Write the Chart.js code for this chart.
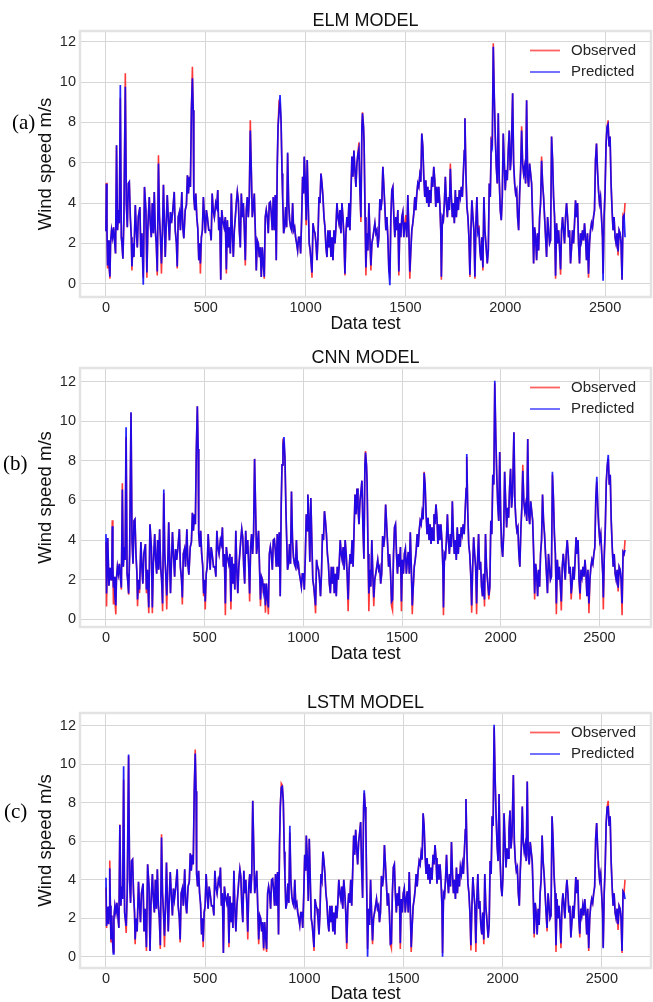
<!DOCTYPE html>
<html>
<head>
<meta charset="utf-8">
<script src="https://cdn.jsdelivr.net/npm/chart.js@4.4.0/dist/chart.umd.min.js"></script>
<style>
html,body{margin:0;padding:0;background:#fff;}
body{width:653px;height:1002px;position:relative;overflow:hidden;}
canvas{position:absolute;left:0;}
.pl{position:absolute;font-family:"Liberation Serif","Times New Roman",serif;font-size:21px;line-height:21px;color:#000;}
</style>
</head>
<body>
<canvas id="c1" width="653" height="335" style="top:0px"></canvas>
<canvas id="c2" width="653" height="331" style="top:335px"></canvas>
<canvas id="c3" width="653" height="336" style="top:666px"></canvas>
<div class="pl" style="left:12px;top:112px">(a)</div>
<div class="pl" style="left:3px;top:453px">(b)</div>
<div class="pl" style="left:4px;top:801px">(c)</div>
<script>
// ---------- DATA ----------
const xTickValues = [0, 500, 1000, 1500, 2000, 2500];
const yTickValues = [0, 2, 4, 6, 8, 10, 12];
const seriesNames = ['Observed', 'Predicted'];
const panelTitles = ['ELM MODEL', 'CNN MODEL', 'LSTM MODEL'];

// shared time index of the test set (ELM numbering)
const timeIndex = [
0,2,5,8,12,15,20,23,28,33, 38,43,48,53,58,63,67,72,77,80, 85,90,97,102,107,112,117,122,127,130,
135,140,147,152,157,162,170,175,180,187, 193,200,205,210,217,222,227,232,237,242, 247,252,257,263,268,273,278,283,288,293,
297,302,307,312,318,323,328,335,342,347, 353,357,362,368,373,380,385,390,397,403, 408,413,418,423,428,433,437,440,445,450,
455,460,465,470,473,478,483,488,493,498, 503,508,515,522,527,532,537,543,550,555, 560,565,570,575,580,585,592,598,603,608,
613,618,623,628,633,638,643,648,653,658, 663,668,673,678,683,688,693,698,703,708, 713,718,723,728,733,738,743,748,753,758,
763,768,773,778,783,788,793,798,803,808, 813,818,823,828,833,838,843,848,853,858, 862,867,872,877,882,885,890,895,900,905,
910,915,920,925,930,935,940,945,950,955, 960,965,970,975,980,985,990,993,998,1003, 1008,1013,1018,1023,1028,1032,1037,1042,1047,1052,
1057,1062,1067,1072,1077,1082,1087,1092,1097,1102, 1107,1112,1117,1122,1127,1132,1137,1142,1147,1152, 1157,1162,1167,1172,1177,1182,1187,1192,1197,1202,
1207,1212,1217,1222,1227,1232,1237,1242,1247,1252,
1257,1262,1267,1272,1277,1282,1285,1290,1293,1298, 1302,1307,1312,1317,1322,1327,1332,1337,1342,1347, 1352,1357,1362,1367,1372,1377,1382,1387,1392,1397,
1402,1407,1412,1417,1422,1427,1432,1437,1442,1447, 1452,1457,1462,1467,1472,1477,1482,1487,1492,1497, 1502,1507,1512,1517,1522,1527,1532,1537,1542,1547,
1552,1557,1562,1567,1572,1577,1582,1587,1592,1597, 1602,1607,1612,1617,1622,1627,1632,1637,1642,1647, 1652,1657,1662,1667,1672,1677,1680,1685,1690,1695,
1700,1705,1710,1715,1720,1725,1730,1735,1740,1745, 1750,1755,1760,1765,1770,1775,1780,1785,1790,1795, 1798,1803,1808,1813,1818,1823,1828,1833,1838,1843,
1848,1853,1858,1863,1868,1873,1878,1883,1888,1893, 1898,1903,1910,1915,1920,1925,1930,1935,1940,1945,
1950,1955,1960,1965,1970,1975,1980,1985,1990,1995, 2000,2005,2010,2015,2020,2025,2030,2037,2042,2047, 2052,2057,2062,2067,2072,2077,2082,2087,2092,2097,
2102,2107,2112,2117,2122,2127,2132,2137,2142,2147, 2152,2157,2162,2167,2172,2177,2182,2187,2192,2197, 2202,2207,2212,2217,2222,2227,2232,2237,2242,2247,
2252,2257,2262,2267,2272,2277,2282,2287,2292,2297, 2302,2307,2312,2317,2322,2327,2332,2337,2342,2347, 2352,2357,2362,2367,2372,2377,2382,2387,2392,2397,
2402,2407,2412,2417,2422,2427,2432,2437,2442,2447, 2452,2457,2462,2467,2472,2477,2482,2487,2490,2495, 2500,2505,2510,2515,2520,2525,2530,2535,2540,2545,
2550,2555,2560,2565,2570,2575,2580,2585,2590,2595, 2600
];

const observed = [
2.6,5.0,2.65,0.75,2.15,1.0,0.25,2.0,2.65,2.3, 2.8,2.15,1.5,6.87,2.65,3.65,3.0,9.2,2.3,2.0, 1.24,3.3,10.43,4.0,2.8,4.97,5.05,3.3,2.3,0.66,
2.0,1.32,3.9,2.65,1.8,3.3,3.8,1.32,2.5,0.3, 4.8,3.65,0.3,2.8,4.3,3.0,2.3,4.0,2.5,4.55, 2.65,2.0,0.41,6.37,3.3,2.3,0.5,2.65,4.9,2.8,
1.32,3.0,4.4,3.3,2.15,3.55,3.0,3.65,4.55,2.65, 2.0,0.75,3.3,3.55,2.65,4.55,2.8,2.25,3.65,3.9, 5.38,4.47,5.3,4.8,8.6,10.76,8.6,4.3,3.65,4.47,
3.3,2.73,1.16,2.0,0.5,2.3,2.65,4.3,3.3,2.5, 3.65,3.3,2.65,2.65,2.15,4.47,3.65,3.3,4.0,3.8, 4.64,2.65,3.3,0.2,3.65,3.15,2.8,3.3,0.5,3.15,
1.8,2.8,1.5,4.47,2.5,1.32,2.65,3.3,4.0,4.55, 4.14,2.65,1.8,4.47,3.3,4.0,2.8,0.9,3.65,4.3, 3.3,4.3,8.1,5.63,3.3,3.8,4.47,2.65,0.66,2.15,
2.0,1.32,1.8,0.33,1.8,1.0,0.25,3.3,3.65,3.3, 2.5,4.0,4.05,3.5,2.65,4.3,2.65,4.4,1.16,5.8, 7.8,9.0,8.9,8.1,5.46,4.3,2.5,2.8,3.8,2.8,
6.45,4.0,3.15,2.8,2.65,4.0,2.65,2.8,2.3,2.0, 1.65,2.3,2.3,1.5,3.15,5.3,4.47,6.3,5.13,2.9, 6.13,4.0,2.0,1.65,1.0,0.3,3.0,2.65,2.5,2.0,
1.16,2.3,4.3,4.0,5.46,4.97,4.3,3.3,2.8,1.8, 1.32,2.65,1.8,2.65,1.32,2.3,1.16,2.65,2.0,2.8, 4.0,3.3,3.0,3.65,2.5,4.0,3.3,2.3,0.41,2.5,
3.3,2.8,4.0,2.65,4.47,6.3,5.3,6.6,5.63,4.8,
5.96,6.45,7.0,4.64,3.06,7.78,8.5,7.78,6.95,3.3, 0.41,2.5,1.65,4.0,2.3,0.66,2.0,2.3,2.65,3.0, 2.5,2.65,1.8,2.3,4.2,3.65,4.14,5.8,4.8,3.8,
2.65,3.3,2.3,0.66,0.45,3.3,4.64,4.8,3.3,2.3, 3.3,2.65,3.65,0.41,3.0,2.3,3.3,3.55,2.3,3.0, 3.4,2.3,4.4,2.65,0.25,1.65,2.65,3.0,3.5,4.3,
3.65,4.47,4.97,4.8,5.38,5.05,7.45,6.8,5.3,4.3, 5.13,4.0,4.8,3.8,4.64,4.0,5.3,4.8,5.8,5.13, 3.8,4.8,4.0,4.8,4.0,2.65,0.2,3.3,3.15,4.0,
5.3,4.0,3.3,4.3,3.65,5.96,4.3,3.3,4.0,3.0, 4.64,3.3,4.3,3.65,4.64,4.3,4.8,4.3,5.46,6.6, 8.2,5.46,3.8,3.3,2.3,0.33,2.65,4.14,3.3,2.65,
0.25,3.0,4.3,2.5,2.9,1.65,1.16,2.3,0.65,4.3, 2.65,2.0,1.0,1.65,4.97,4.3,7.3,6.8,11.92,9.27,
7.3,5.8,4.97,8.45,5.13,3.65,3.15,4.3,7.45,5.96, 4.64,5.63,5.13,6.6,7.6,5.63,6.3,9.44,5.96,4.97, 4.47,4.64,3.3,2.65,4.47,5.63,7.8,5.96,5.46,5.8,
4.97,9.1,5.3,4.8,5.96,5.46,4.97,3.3,1.0,2.8, 2.3,1.16,2.5,1.65,3.3,4.0,6.3,4.97,4.3,3.3, 2.3,1.32,3.3,2.65,2.0,2.15,7.3,6.13,4.3,3.3,
0.25,3.0,2.0,2.65,1.8,0.45,2.65,3.3,2.65,2.0, 3.3,4.0,3.3,2.3,2.65,1.0,1.8,2.65,2.0,3.0, 4.14,3.3,4.0,2.0,1.0,2.5,2.15,2.65,2.15,3.0,
2.3,1.16,2.5,0.3,2.0,2.65,3.0,2.8,3.3,3.65, 6.13,6.95,5.63,4.64,4.0,4.3,3.3,2.3,0.5,3.3, 4.64,6.95,7.78,8.1,6.8,7.3,4.97,3.65,2.65,3.3,
2.3,2.0,2.5,1.4,2.65,2.5,2.0,0.2,3.4,3.3, 4.0
];

const elmPredicted = [
2.6,4.95,2.65,0.9,2.15,1.0,0.35,2.0,2.65,2.3, 2.8,2.15,1.5,6.87,2.65,3.65,3.0,9.85,2.3,2.0, 1.24,3.3,9.77,4.0,2.8,4.97,5.05,3.3,2.3,0.85,
2.0,1.32,3.9,2.65,1.8,3.3,3.8,1.32,2.5,-0.05, 4.8,3.65,0.55,2.8,4.3,3.0,2.3,4.0,2.5,4.55, 2.65,2.0,0.6,5.96,3.3,2.3,1.0,2.65,4.9,2.8,
1.32,3.0,4.4,3.3,2.15,3.55,3.0,3.65,4.55,2.65, 2.0,0.85,3.3,3.55,2.65,4.55,2.8,2.25,3.65,3.9, 5.38,4.47,5.3,4.8,8.6,10.18,8.6,4.3,3.65,4.47,
3.3,2.73,1.16,2.0,1.0,2.3,2.65,4.3,3.3,2.5, 3.65,3.3,2.65,2.65,2.15,4.47,3.65,3.3,4.0,3.8, 4.64,2.65,3.3,0.2,3.65,3.15,2.8,3.3,0.7,3.15,
1.8,2.8,1.5,4.47,2.5,1.32,2.65,3.3,4.0,4.55, 4.14,2.65,1.8,4.47,3.3,4.0,2.8,1.16,3.65,4.3, 3.3,4.3,7.6,5.63,3.3,3.8,4.47,2.65,0.66,2.15,
2.0,1.32,1.8,0.33,1.8,1.0,0.35,3.3,3.65,3.3, 2.5,4.0,4.05,3.5,2.65,4.3,2.65,4.4,1.16,5.8, 7.8,8.5,9.35,8.1,5.46,4.3,2.5,2.8,3.8,2.8,
6.5,4.0,3.15,2.8,2.65,4.0,2.65,2.8,2.3,2.0, 1.65,2.3,2.3,1.5,3.15,5.3,4.47,6.3,5.13,3.15, 6.13,4.0,2.0,1.65,1.0,0.55,3.0,2.65,2.5,2.0,
1.16,2.3,4.3,4.0,5.46,4.97,4.3,3.3,2.8,1.8, 1.32,2.65,1.8,2.65,1.32,2.3,1.16,2.65,2.0,2.8, 4.0,3.3,3.0,3.65,2.5,4.0,3.3,2.3,0.5,2.5,
3.3,2.8,4.0,2.65,4.47,6.3,5.3,6.6,5.63,4.8,
5.96,6.45,6.7,4.64,3.3,7.78,8.45,7.78,6.95,3.3, 0.8,2.5,1.65,4.0,2.3,0.9,2.0,2.3,2.65,3.0, 2.5,2.65,1.8,2.3,4.2,3.65,4.14,5.8,4.8,3.8,
2.65,3.3,2.3,0.66,-0.08,3.3,4.64,4.8,3.3,2.3, 3.3,2.65,3.65,0.6,3.0,2.3,3.3,3.55,2.3,3.0, 3.0,2.3,4.4,2.65,0.6,1.65,2.65,3.0,3.5,4.3,
3.65,4.47,4.97,4.8,5.38,5.05,7.45,6.8,5.3,4.3, 5.13,4.0,4.8,3.8,4.64,4.0,5.3,4.8,5.8,5.13, 3.8,4.8,4.0,4.8,4.0,2.65,0.35,3.3,3.15,4.0,
5.3,4.0,3.3,4.3,3.65,5.7,4.3,3.3,4.0,3.0, 4.64,3.3,4.3,3.65,4.64,4.3,4.8,4.3,5.46,6.6, 8.2,5.46,3.8,3.3,2.3,0.45,2.65,4.14,3.3,2.65,
0.35,3.0,4.3,2.5,2.65,1.65,1.16,2.3,0.8,4.3, 2.65,2.0,1.0,1.65,4.97,4.3,7.0,6.8,11.75,9.27,
7.3,5.8,4.97,8.45,5.13,3.65,3.15,4.3,7.45,5.96, 4.64,5.63,5.13,6.6,7.6,5.63,6.3,9.44,5.96,4.97, 4.47,4.64,3.3,2.65,4.47,5.63,7.6,5.96,5.46,5.8,
4.97,9.1,5.3,4.8,5.96,5.46,4.97,3.3,1.0,2.8, 2.3,1.16,2.5,1.65,3.3,4.0,6.1,4.97,4.3,3.3, 2.3,1.32,3.3,2.65,2.0,2.15,7.3,6.13,4.3,3.3,
0.4,3.0,2.0,2.65,1.8,0.7,2.65,3.3,2.65,2.0, 3.3,4.0,3.3,2.3,2.65,1.0,1.8,2.65,2.0,3.0, 4.14,3.3,4.0,2.0,1.0,2.5,2.15,2.65,2.15,3.0,
2.3,1.16,2.5,0.5,2.0,2.65,3.0,2.8,3.3,3.65, 6.13,6.95,5.63,4.64,4.0,4.3,3.3,2.3,0.15,3.3, 4.64,6.95,7.78,7.9,6.8,7.3,4.97,3.65,2.65,3.3,
2.3,2.0,2.5,1.6,2.65,2.5,2.0,0.2,3.3,3.4, 2.3
];

const cnnPredicted = [
2.6,4.7,2.65,1.6,2.15,1.2,0.7,2.0,2.65,2.3, 2.8,2.15,1.6,6.55,2.65,3.65,3.0,9.7,2.3,2.0, 1.3,3.3,10.45,4.0,2.8,4.97,5.05,3.3,2.3,1.0,
2.0,1.5,3.9,2.65,1.8,3.3,3.8,1.5,2.5,0.6, 4.8,3.65,0.6,2.8,4.3,3.0,2.3,4.0,2.5,4.55, 2.65,2.0,0.8,6.55,3.3,2.3,1.2,2.65,4.9,2.8,
1.32,3.0,4.4,3.3,2.15,3.55,3.0,3.65,4.55,2.65, 2.0,1.1,3.3,3.55,2.65,4.55,2.8,2.25,3.65,3.9, 5.38,4.47,5.3,4.8,8.6,10.76,8.6,4.3,3.65,4.47,
3.3,2.73,1.3,2.0,0.9,2.3,2.65,4.3,3.3,2.5, 3.65,3.3,2.65,2.65,2.15,4.47,3.65,3.3,4.0,3.8, 4.64,2.65,3.3,0.8,3.65,3.15,2.8,3.3,0.9,3.15,
1.8,2.8,1.5,4.47,2.5,1.32,2.65,3.3,4.0,4.55, 4.14,2.65,1.8,4.47,3.3,4.0,2.8,1.3,3.65,4.3, 3.3,4.3,8.1,5.63,3.3,3.8,4.47,2.65,1.0,2.15,
2.0,1.4,1.8,0.7,1.8,1.1,0.6,3.3,3.65,3.3, 2.5,4.0,4.05,3.5,2.65,4.3,2.65,4.4,1.16,5.8, 7.8,8.8,9.2,8.1,5.46,4.3,2.5,2.8,3.8,2.8,
6.45,4.0,3.15,2.8,2.65,4.0,2.65,2.8,2.3,2.0, 1.65,2.3,2.3,1.5,3.15,5.3,4.47,6.3,5.13,2.9, 6.13,4.0,2.0,1.65,1.1,0.7,3.0,2.65,2.5,2.0,
1.16,2.3,4.3,4.0,5.46,4.97,4.3,3.3,2.8,1.8, 1.32,2.65,1.8,2.65,1.32,2.3,1.16,2.65,2.0,2.8, 4.0,3.3,3.0,3.65,2.5,4.0,3.3,2.3,1.0,2.5,
3.3,2.8,4.0,2.65,4.47,6.3,5.3,6.6,5.63,4.8,
5.96,6.45,7.0,4.64,3.06,7.78,8.42,7.78,6.95,3.3, 1.3,2.5,1.65,4.0,2.3,1.1,2.0,2.3,2.65,3.0, 2.5,2.65,1.8,2.3,4.2,3.65,4.14,5.8,4.8,3.8,
2.65,3.3,2.3,0.9,1.0,3.3,4.64,4.8,3.3,2.3, 3.3,2.65,3.65,0.9,3.0,2.3,3.3,3.55,2.3,3.0, 3.4,2.3,4.4,2.65,0.7,1.65,2.65,3.0,3.5,4.3,
3.65,4.47,4.97,4.8,5.38,5.05,7.4,6.8,5.3,4.3, 5.13,4.0,4.8,3.8,4.64,4.0,5.3,4.8,5.8,5.13, 3.8,4.8,4.0,4.8,4.0,2.65,0.6,3.3,3.15,4.0,
5.3,4.0,3.3,4.3,3.65,5.96,4.3,3.3,4.0,3.0, 4.64,3.3,4.3,3.65,4.64,4.3,4.8,4.3,5.46,6.6, 8.35,5.46,3.8,3.3,2.3,0.7,2.65,4.14,3.3,2.65,
0.8,3.0,4.3,2.5,2.9,1.65,1.16,2.3,1.0,4.3, 2.65,2.0,1.2,1.65,4.97,4.3,7.3,6.8,12.05,9.27,
7.3,5.8,4.97,8.45,5.13,3.65,3.15,4.3,7.45,5.96, 4.64,5.63,5.13,6.6,7.6,5.63,6.3,9.44,5.96,4.97, 4.47,4.64,3.3,2.65,4.47,5.63,7.5,5.96,5.46,5.8,
4.97,9.1,5.3,4.8,5.96,5.46,4.97,3.3,1.3,2.8, 2.3,1.16,2.5,1.65,3.3,4.0,6.3,4.97,4.3,3.3, 2.3,1.32,3.3,2.65,2.0,2.15,7.45,6.13,4.3,3.3,
0.8,3.0,2.0,2.65,1.8,0.9,2.65,3.3,2.65,2.0, 3.3,4.0,3.3,2.3,2.65,1.3,1.8,2.65,2.0,3.0, 4.14,3.3,4.0,2.0,1.3,2.5,2.15,2.65,2.15,3.0,
2.3,1.16,2.5,0.8,2.0,2.65,3.0,2.8,3.3,3.65, 6.13,7.2,5.63,4.64,4.0,4.3,3.3,2.3,1.1,3.3, 4.64,6.95,7.78,8.3,6.8,7.3,4.97,3.65,2.65,3.3,
2.3,2.0,2.5,1.6,2.65,2.5,2.0,0.8,3.4,3.3, 3.5
];

const lstmPredicted = [
2.6,4.6,2.65,0.9,2.15,1.0,0.15,2.0,2.65,2.3, 2.8,2.15,1.5,6.85,2.65,3.65,3.0,9.9,2.3,2.0, 1.6,3.3,10.5,4.0,2.8,4.97,5.05,3.3,2.3,0.9,
2.0,1.32,3.9,2.65,1.8,3.3,3.8,1.32,2.5,0.5, 4.8,3.65,0.3,2.8,4.3,3.0,2.3,4.0,2.5,4.55, 2.65,2.0,0.6,6.2,3.3,2.3,1.1,2.65,4.9,2.8,
1.32,3.0,4.4,3.3,2.15,3.55,3.0,3.65,4.55,2.65, 2.0,0.9,3.3,3.55,2.65,4.55,2.8,2.25,3.65,3.9, 5.38,4.47,5.3,4.8,8.6,10.55,8.6,4.3,3.65,4.47,
3.3,2.73,1.16,2.0,0.8,2.3,2.65,4.3,3.3,2.5, 3.65,3.3,2.65,2.65,2.15,4.47,3.65,3.3,4.0,3.8, 4.64,2.65,3.3,0.2,3.65,3.15,2.8,3.3,0.7,3.15,
1.8,2.8,1.5,4.47,2.5,1.32,2.65,3.3,4.0,4.55, 4.14,2.65,1.8,4.47,3.3,4.0,2.8,1.3,3.65,4.3, 3.3,4.3,8.1,5.63,3.3,3.8,4.47,2.65,0.9,2.15,
2.0,1.32,1.8,0.45,1.8,1.0,0.4,3.3,3.65,3.3, 2.5,4.0,4.05,3.5,2.65,4.3,2.65,4.4,1.16,5.8, 7.8,8.8,8.85,8.1,5.46,4.3,2.5,2.8,3.8,2.8,
6.8,4.0,3.15,2.8,2.65,4.0,2.65,2.8,2.3,2.0, 1.65,2.3,2.3,1.5,3.15,5.3,4.47,6.3,5.13,2.9, 6.13,4.0,2.0,1.65,1.0,0.5,3.0,2.65,2.5,2.0,
1.16,2.3,4.3,4.0,5.46,4.97,4.3,3.3,2.8,1.8, 1.32,2.65,1.8,2.65,1.32,2.3,1.16,2.65,2.0,2.8, 4.0,3.3,3.0,3.65,2.5,4.0,3.3,2.3,0.7,2.5,
3.3,2.8,4.0,2.65,4.47,6.3,5.3,6.6,5.63,4.8,
5.96,6.45,7.0,4.64,3.06,7.78,8.65,7.78,6.95,3.3, 0.0,2.5,1.65,4.0,2.3,0.85,2.0,2.3,2.65,3.0, 2.5,2.65,1.8,2.3,4.2,3.65,4.14,5.8,4.8,3.8,
2.65,3.3,2.3,0.66,0.7,3.3,4.64,4.8,3.3,2.3, 3.3,2.65,3.65,0.7,3.0,2.3,3.3,3.55,2.3,3.0, 3.4,2.3,4.4,2.65,0.5,1.65,2.65,3.0,3.5,4.3,
3.65,4.47,4.97,4.8,5.38,5.05,7.45,6.8,5.3,4.3, 5.13,4.0,4.8,3.8,4.64,4.0,5.3,4.8,5.8,5.13, 3.8,4.8,4.0,4.8,4.0,2.65,0.0,3.3,3.15,4.0,
5.3,4.0,3.3,4.3,3.65,5.96,4.3,3.3,4.0,3.0, 4.64,3.3,4.3,3.65,4.64,4.3,4.8,4.3,5.46,6.6, 8.2,5.46,3.8,3.3,2.3,0.6,2.65,4.14,3.3,2.65,
0.7,3.0,4.3,2.5,2.9,1.65,1.16,2.3,0.9,4.3, 2.65,2.0,1.0,1.65,4.97,4.3,7.3,6.8,12.05,9.27,
7.3,5.8,4.97,8.45,5.13,3.65,3.15,4.3,7.45,5.96, 4.64,5.63,5.13,6.6,7.6,5.63,6.3,9.44,5.96,4.97, 4.47,4.64,3.3,2.65,4.47,5.63,7.8,5.96,5.46,5.8,
4.97,9.1,5.3,4.8,5.96,5.46,4.97,3.3,1.2,2.8, 2.3,1.16,2.5,1.65,3.3,4.0,6.3,4.97,4.3,3.3, 2.3,1.5,3.3,2.65,2.0,2.15,7.3,6.13,4.3,3.3,
0.6,3.0,2.0,2.65,1.8,0.7,2.65,3.3,2.65,2.0, 3.3,4.0,3.3,2.3,2.65,1.0,1.8,2.65,2.0,3.0, 4.14,3.3,4.0,2.0,1.2,2.5,2.15,2.65,2.15,3.0,
2.3,1.16,2.5,0.45,2.0,2.65,3.0,2.8,3.3,3.65, 6.13,6.95,5.63,4.64,4.0,4.3,3.3,2.3,0.45,3.3, 4.64,6.95,7.78,7.8,6.8,7.3,4.97,3.65,2.65,3.3,
2.3,2.0,2.5,1.7,2.65,2.5,2.0,0.3,3.4,3.3, 3.0
];

// the CNN and LSTM test sets start a little earlier than the ELM one
const cnnIndexShift = 30;
const lstmIndexShift = 17;
const cnnLeadX = [0, 3, 9, 15, 21, 26];
const cnnLeadObserved = [3.9, 0.65, 4.1, 1.7, 2.6, 2.0];
const cnnLeadPredicted = [4.3, 1.3, 4.1, 1.7, 2.6, 2.0];
const lstmLeadX = [0, 3, 8, 13];
const lstmLeadObserved = [3.6, 1.5, 2.6, 1.7];
const lstmLeadPredicted = [4.1, 1.6, 2.6, 1.7];

// ---------- RENDERING ----------
const FONT = '"Liberation Sans", Arial, Helvetica, sans-serif';
const TXT = '#262626';
const RED = 'rgba(255,0,0,0.78)';
const BLUE = 'rgba(0,0,255,0.86)';
const LEGEND_COLORS = ['rgba(255,0,0,0.62)', 'rgba(0,0,255,0.62)'];

const framePlugin = {
  id: 'frame',
  afterDatasetsDraw(chart) {
    const {ctx, chartArea: a} = chart;
    ctx.save();
    ctx.strokeStyle = '#e3e3e3';
    ctx.lineWidth = 2.5;
    ctx.strokeRect(a.left, a.top, a.right - a.left, a.bottom - a.top);
    ctx.restore();
  }
};

const legendPlugin = {
  id: 'lineLegend',
  afterDraw(chart) {
    const {ctx, chartArea: a} = chart;
    const rows = [19.5, 41];
    ctx.save();
    ctx.font = '15px ' + FONT;
    ctx.textBaseline = 'middle';
    ctx.textAlign = 'left';
    chart.data.datasets.forEach((ds, i) => {
      const y = a.top + rows[i];
      ctx.strokeStyle = LEGEND_COLORS[i];
      ctx.lineWidth = 1.8;
      ctx.beginPath();
      ctx.moveTo(a.right - 121, y);
      ctx.lineTo(a.right - 91, y);
      ctx.stroke();
      ctx.fillStyle = TXT;
      ctx.fillText(ds.label, a.right - 80, y);
    });
    ctx.restore();
  }
};

function buildPoints(leadX, leadVals, shift, vals) {
  const pts = leadX.map((x, i) => ({x: x, y: leadVals[i]}));
  timeIndex.forEach((t, i) => pts.push({x: t + shift, y: vals[i]}));
  return pts;
}

function makePanel(id, p) {
  return new Chart(document.getElementById(id), {
    type: 'line',
    data: {
      datasets: [
        {label: seriesNames[0], data: buildPoints(p.leadX, p.leadObs, p.shift, observed),
         borderColor: RED, borderWidth: 1.6, pointRadius: 0, tension: 0, order: 2},
        {label: seriesNames[1], data: buildPoints(p.leadX, p.leadPred, p.shift, p.pred),
         borderColor: BLUE, borderWidth: 1.7, pointRadius: 0, tension: 0, order: 1}
      ]
    },
    options: {
      responsive: false,
      animation: false,
      devicePixelRatio: 1,
      layout: {padding: {left: 0, right: 2, top: 0, bottom: p.padBottom}},
      plugins: {
        legend: {display: false},
        tooltip: {enabled: false},
        title: {display: true, text: p.title, fullSize: false, color: '#111',
                font: {family: FONT, size: 18, weight: 'normal', lineHeight: 1},
                padding: {top: p.titleTop, bottom: 1}}
      },
      scales: {
        x: {
          type: 'linear', min: p.xMin, max: p.xMax,
          afterBuildTicks: s => { s.ticks = xTickValues.map(v => ({value: v})); },
          afterFit: s => { s.height = p.xAxisH; },
          grid: {color: '#d6d6d6', lineWidth: 1, drawTicks: false},
          border: {display: false},
          ticks: {color: TXT, font: {family: FONT, size: 14.5}, padding: 2, maxRotation: 0, autoSkip: false,
                  callback: v => String(v)},
          title: {display: true, text: 'Data test', color: '#111',
                  font: {family: FONT, size: 17.5, lineHeight: 0.9}, padding: {top: 0, bottom: 0}}
        },
        y: {
          type: 'linear', min: p.yMin, max: p.yMax,
          afterBuildTicks: s => { s.ticks = yTickValues.map(v => ({value: v})); },
          afterFit: s => { s.width = 80; },
          grid: {color: '#d6d6d6', lineWidth: 1, drawTicks: false},
          border: {display: false},
          ticks: {color: TXT, font: {family: FONT, size: 14.5}, padding: 4, callback: v => String(v)},
          title: {display: true, text: 'Wind speed m/s', color: '#111',
                  font: {family: FONT, size: 18.5, lineHeight: 1}, padding: {top: 37, bottom: 0}}
        }
      }
    },
    plugins: [framePlugin, legendPlugin]
  });
}

makePanel('c1', {title: panelTitles[0], pred: elmPredicted, shift: 0,
  leadX: [], leadObs: [], leadPred: [],
  xMin: -130, xMax: 2730, yMin: -0.66, yMax: 12.53,
  titleTop: 12, xAxisH: 34.9, padBottom: 3.1});

makePanel('c2', {title: panelTitles[1], pred: cnnPredicted, shift: cnnIndexShift,
  leadX: cnnLeadX, leadObs: cnnLeadObserved, leadPred: cnnLeadPredicted,
  xMin: -131.5, xMax: 2761.5, yMin: -0.39, yMax: 12.69,
  titleTop: 14, xAxisH: 34.9, padBottom: 4.1});

makePanel('c3', {title: panelTitles[2], pred: lstmPredicted, shift: lstmIndexShift,
  leadX: lstmLeadX, leadObs: lstmLeadObserved, leadPred: lstmLeadPredicted,
  xMin: -131, xMax: 2748, yMin: -0.58, yMax: 12.66,
  titleTop: 28, xAxisH: 33.9, padBottom: 0.1});

if (!(timeIndex.length === observed.length && observed.length === elmPredicted.length &&
      elmPredicted.length === cnnPredicted.length && cnnPredicted.length === lstmPredicted.length)) {
  console.warn('length mismatch', timeIndex.length, observed.length, elmPredicted.length, cnnPredicted.length, lstmPredicted.length);
}
</script>
</body>
</html>
